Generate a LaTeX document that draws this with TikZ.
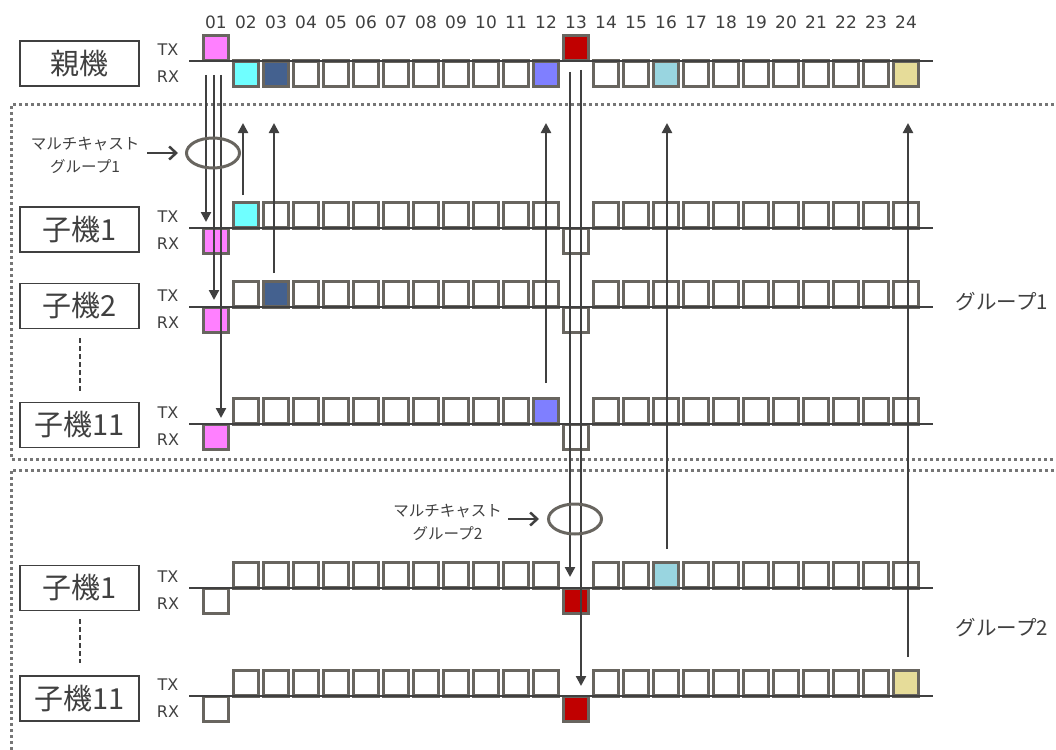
\documentclass[tikz,border=0pt]{standalone}
\usepackage{fontspec}
\setmainfont{DejaVu Sans}
\newfontfamily\jp{Noto Sans CJK JP}
\usetikzlibrary{arrows.meta,shapes.geometric}

\definecolor{boxgray}{RGB}{104,101,95}
\definecolor{dark}{RGB}{64,64,64}
\definecolor{dotgray}{RGB}{118,118,118}
\definecolor{cpink}{RGB}{255,128,255}
\definecolor{ccyan}{RGB}{111,255,255}
\definecolor{cnavy}{RGB}{68,97,143}
\definecolor{cperi}{RGB}{127,127,255}
\definecolor{clblue}{RGB}{153,213,224}
\definecolor{ckhaki}{RGB}{230,220,153}
\definecolor{cred}{RGB}{192,0,0}

\newcommand\mkrow[6]{%
  \foreach \i in {2,...,12,14,15,...,24}{%
    \ifnum\i=#3\relax\def\fc{#4}\else\def\fc{white}\fi
    \node[slotbox, fill=\fc] (#1-tx\i) at ({216+30*(\i-1)}, {#2-12.75}) {};
  }
  \node[slotbox, fill=#5] (#1-rx1) at (216, {#2+12.75}) {};
  \node[slotbox, fill=#6] (#1-rx13) at (576, {#2+12.75}) {};
  \coordinate (#1-l) at (189,#2);
  \coordinate (#1-r) at (933,#2);
  \draw[tline] (#1-l) -- (#1-r);
  \node[trlabel] (#1-txl) at (168, {#2-11}) {TX};
  \node[trlabel] (#1-rxl) at (168, {#2+16}) {RX};
}

\begin{document}
\begin{tikzpicture}[x=1pt,y=-1pt,
  slotbox/.style={draw=boxgray, line width=3.2pt, fill=white, minimum width=24.8pt, minimum height=25.3pt, inner sep=0pt, outer sep=0pt},
  tline/.style={draw=dark, line width=2.8pt},
  namebox/.style={draw=dark, line width=1.5pt, minimum width=119pt, minimum height=45pt, inner sep=0pt, font=\jp\fontsize{29}{32}\selectfont, text=dark},
  trlabel/.style={font=\fontsize{16}{18}\selectfont, text=dark, inner sep=0pt},
  numlabel/.style={font=\fontsize{17}{19}\selectfont, text=dark, inner sep=0pt},
  sig/.style={draw=dark, line width=2.3pt, -{Triangle[length=10pt,width=10pt]}},
  ptr/.style={draw=dark, line width=2.5pt, -{Straight Barb[length=7pt,width=13pt]}},
  grpell/.style={ellipse, draw=boxgray, line width=3pt, minimum width=53pt, minimum height=30pt, inner sep=0pt},
  mctext/.style={font=\jp\fontsize{15.5}{23}\selectfont, text=dark, align=center, inner sep=0pt},
  grptext/.style={font=\jp\fontsize{20.5}{24}\selectfont, text=dark, inner sep=0pt},
  dotline/.style={draw=dotgray, line width=3pt, dash pattern=on 3pt off 3pt},
  vdash/.style={draw=dark, line width=1.2pt, dash pattern=on 5pt off 3pt}
]
\useasboundingbox (0,0) rectangle (1056,749);
\clip (0,0) rectangle (1056,749);

% group frames
\draw[dotline] (1060,105) -- (11,105) -- (11,459) -- (1060,459);
\draw[dotline] (1060,470) -- (11,470) -- (11,752);

% slot numbers
\foreach \i in {1,...,24}{%
  \node[numlabel] (n\i) at ({216+30*(\i-1)}, 22) {\ifnum\i<10 0\fi\i};
}

% parent row
\node[slotbox, fill=cpink] (P-tx1) at (216, 48.25) {};
\node[slotbox, fill=cred] (P-tx13) at (576, 48.25) {};
\foreach \i/\c in {2/ccyan,3/cnavy,4/white,5/white,6/white,7/white,8/white,9/white,10/white,11/white,12/cperi,14/white,15/white,16/clblue,17/white,18/white,19/white,20/white,21/white,22/white,23/white,24/ckhaki}{%
  \node[slotbox, fill=\c] (P-rx\i) at ({216+30*(\i-1)}, 73.75) {};
}
\coordinate (P-l) at (189,61);
\coordinate (P-r) at (933,61);
\draw[tline] (P-l) -- (P-r);
\node[trlabel] (P-txl) at (168, 50) {TX};
\node[trlabel] (P-rxl) at (168, 77) {RX};
\node[namebox] (P-name) at (79.5, 63.5) {親機};

% group 1
\mkrow{A}{228}{2}{ccyan}{cpink}{white}
\mkrow{B}{307}{3}{cnavy}{cpink}{white}
\mkrow{C}{424}{12}{cperi}{cpink}{white}
% group 2
\mkrow{D}{588}{16}{clblue}{white}{cred}
\mkrow{E}{696}{24}{ckhaki}{white}{cred}

\node[namebox] (A-name) at (79.5, 229.5) {子機1};
\node[namebox] (B-name) at (79.5, 306) {子機2};
\node[namebox] (C-name) at (79.5, 425) {子機11};
\node[namebox] (D-name) at (79.5, 588) {子機1};
\node[namebox] (E-name) at (79.5, 698.5) {子機11};

\coordinate (v1a) at (80,338); \coordinate (v1b) at (80,393);
\coordinate (v2a) at (80,619); \coordinate (v2b) at (80,663);
\draw[vdash] (v1a) -- (v1b);
\draw[vdash] (v2a) -- (v2b);

% down arrows from parent slot 01
\coordinate (d1s) at (206,75); \coordinate (d1e) at (206,222);
\coordinate (d2s) at (214,75); \coordinate (d2e) at (214,300);
\coordinate (d3s) at (221,75); \coordinate (d3e) at (221,418);
\draw[sig] (d1s) -- (d1e);
\draw[sig] (d2s) -- (d2e);
\draw[sig] (d3s) -- (d3e);

% down arrows from parent slot 13
\coordinate (d4s) at (570,72); \coordinate (d4e) at (570,577);
\coordinate (d5s) at (581,70); \coordinate (d5e) at (581,686);
\draw[sig] (d4s) -- (d4e);
\draw[sig] (d5s) -- (d5e);

% up arrows
\coordinate (u1s) at (243,195); \coordinate (u1e) at (243,123);
\coordinate (u2s) at (274,273); \coordinate (u2e) at (274,123);
\coordinate (u3s) at (546,383); \coordinate (u3e) at (546,123);
\coordinate (u4s) at (667,549); \coordinate (u4e) at (667,123);
\coordinate (u5s) at (908,657); \coordinate (u5e) at (908,123);
\draw[sig] (u1s) -- (u1e);
\draw[sig] (u2s) -- (u2e);
\draw[sig] (u3s) -- (u3e);
\draw[sig] (u4s) -- (u4e);
\draw[sig] (u5s) -- (u5e);

% multicast groups
\node[grpell] (mc1) at (213,153) {};
\node[mctext] (mt1) at (85,155.5) {マルチキャスト\\グループ1};
\coordinate (p1s) at (147,153); \coordinate (p1e) at (178,153);
\draw[ptr] (p1s) -- (p1e);

\node[grpell] (mc2) at (575,519) {};
\node[mctext] (mt2) at (447.5,522) {マルチキャスト\\グループ2};
\coordinate (p2s) at (508,519); \coordinate (p2e) at (539,519);
\draw[ptr] (p2s) -- (p2e);

% group labels
\node[grptext] (g1) at (1002,302) {グループ1};
\node[grptext] (g2) at (1002,628) {グループ2};
\end{tikzpicture}
\end{document}
